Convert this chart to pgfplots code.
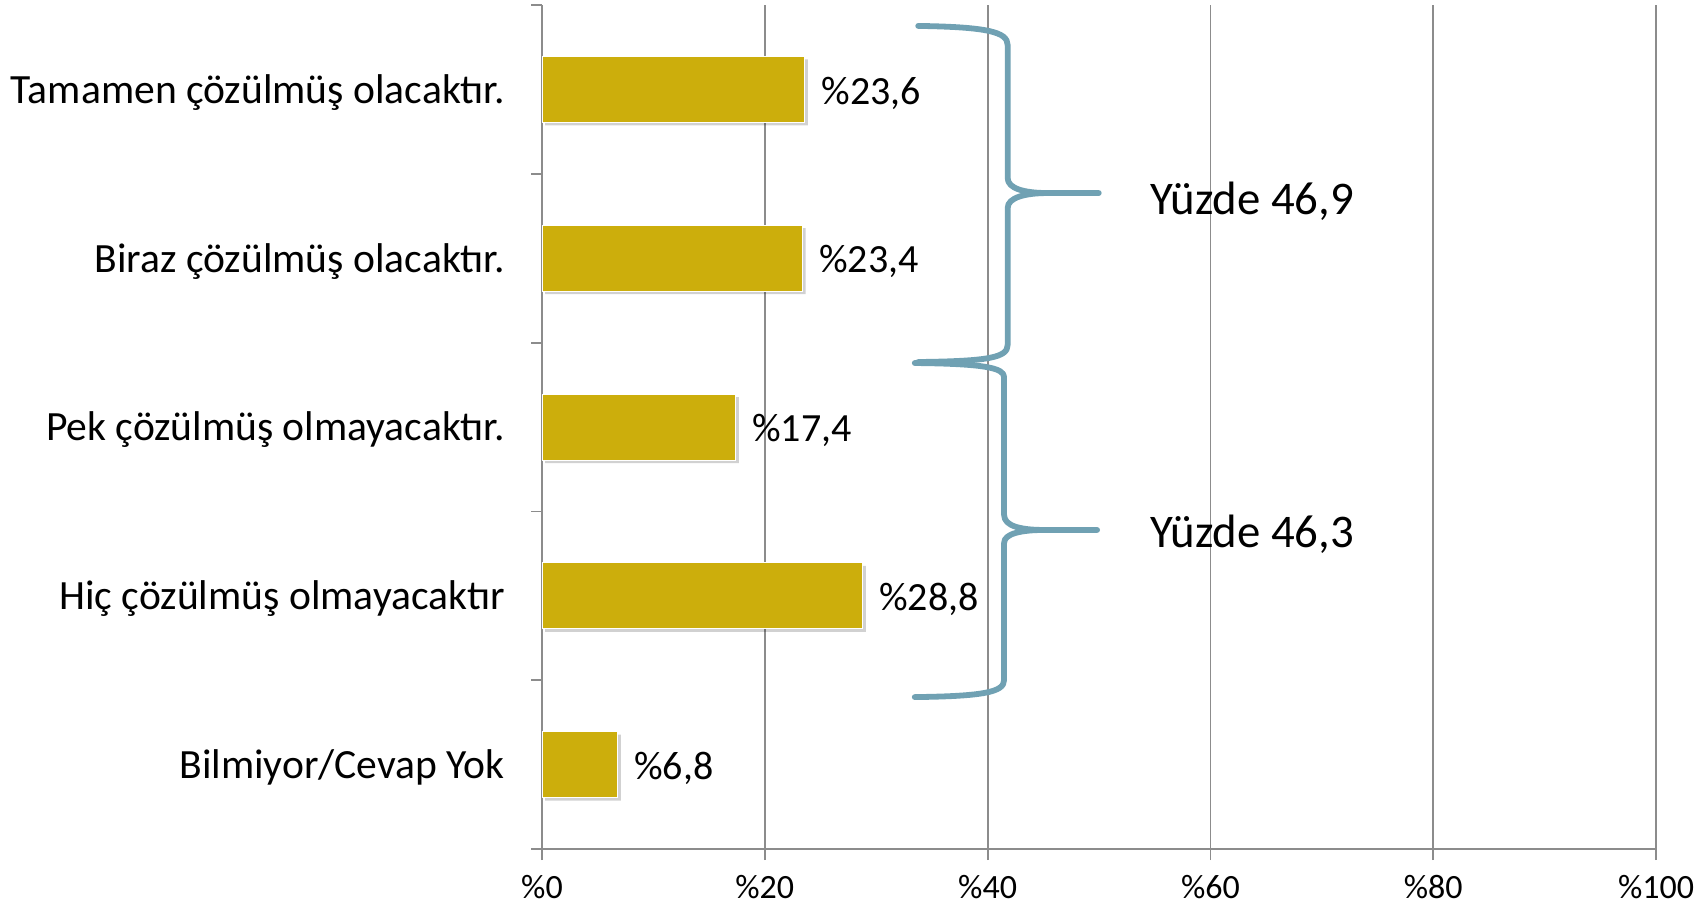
\documentclass[border=0pt]{standalone}
\usepackage{pgfplots}
\pgfplotsset{compat=1.18}
\usepackage{fontspec}
\setmainfont{Carlito}
\definecolor{barcol}{RGB}{204,174,12}
\definecolor{bracecol}{RGB}{112,161,179}
\definecolor{gridcol}{RGB}{140,140,140}
\begin{document}
\begin{tikzpicture}
\path[use as bounding box] (0,0) rectangle (853.5pt,453pt);
\begin{axis}[
  at={(271pt,28.5pt)}, anchor=south west,
  scale only axis, width=557pt, height=422pt,
  xmin=0, xmax=100, ymin=-0.5, ymax=4.5,
  clip=false,
  axis lines*=left,
  axis line style={gridcol, line width=0.9pt},
  xtick={0,20,40,60,80,100},
  xticklabels={\%0,\%20,\%40,\%60,\%80,\%100},
  xticklabel style={font=\fontsize{17}{20}\selectfont, inner sep=0pt, yshift=-7.5pt},
  xmajorgrids, grid style={gridcol, line width=0.9pt},
  ytick={-0.5,0.5,1.5,2.5,3.5,4.5}, yticklabels={},
  extra y ticks={0,1,2,3,4},
  extra y tick labels={Bilmiyor/Cevap Yok, Hiç çözülmüş olmayacaktır, Pek çözülmüş olmayacaktır., Biraz çözülmüş olacaktır., Tamamen çözülmüş olacaktır.},
  extra y tick style={major tick length=0pt},
  yticklabel style={font=\fontsize{20.8}{24}\selectfont, inner sep=0pt, anchor=east, xshift=-18.4pt, yshift=-1.5pt},
  tick align=outside, major tick length=5.5pt,
  tick style={gridcol, line width=0.9pt},
]
\addplot[xbar, bar width=33pt, fill=black, opacity=0.18, draw=none, bar shift=-1.5pt, xshift=1.5pt, forget plot]
  coordinates {(23.6,4) (23.4,3) (17.4,2) (28.8,1) (6.8,0)};
\addplot[xbar, bar width=33pt, fill=barcol, draw=white, line width=0.5pt,
  nodes near coords, point meta=explicit symbolic,
  nodes near coords style={anchor=west, inner sep=0pt, xshift=8pt, yshift=-1.8pt, font=\fontsize{20}{24}\selectfont, black}]
  coordinates {(23.6,4) [\%23,6] (23.4,3) [\%23,4] (17.4,2) [\%17,4] (28.8,1) [\%28,8] (6.8,0) [\%6,8]};
\draw[bracecol, line width=2.9pt, line cap=round, line join=round]
  (axis cs:33.77,4.376) .. controls (axis cs:40.0,4.37) and (axis cs:41.8,4.34) .. (axis cs:41.8,4.263)
  -- (axis cs:41.8,3.475) .. controls (axis cs:41.8,3.41) and (axis cs:43.4,3.386) .. (axis cs:45.4,3.386)
  -- (axis cs:49.98,3.386) -- (axis cs:45.4,3.386)
  .. controls (axis cs:43.4,3.386) and (axis cs:41.8,3.36) .. (axis cs:41.8,3.297)
  -- (axis cs:41.8,2.486) .. controls (axis cs:41.8,2.41) and (axis cs:40.0,2.39) .. (axis cs:33.77,2.385);
\draw[bracecol, line width=2.9pt, line cap=round, line join=round]
  (axis cs:33.46,2.379) .. controls (axis cs:39.7,2.375) and (axis cs:41.48,2.35) .. (axis cs:41.48,2.296)
  -- (axis cs:41.48,1.479) .. controls (axis cs:41.48,1.41) and (axis cs:43.1,1.39) .. (axis cs:45.1,1.39)
  -- (axis cs:49.83,1.39) -- (axis cs:45.1,1.39)
  .. controls (axis cs:43.1,1.39) and (axis cs:41.48,1.37) .. (axis cs:41.48,1.313)
  -- (axis cs:41.48,0.501) .. controls (axis cs:41.48,0.43) and (axis cs:39.7,0.405) .. (axis cs:33.46,0.400);
\node[anchor=base west, inner sep=0pt, font=\fontsize{23.4}{28}\selectfont] at (axis cs:54.55,3.257) {Yüzde 46,9};
\node[anchor=base west, inner sep=0pt, font=\fontsize{23.4}{28}\selectfont] at (axis cs:54.55,1.284) {Yüzde 46,3};
\end{axis}
\end{tikzpicture}
\end{document}
